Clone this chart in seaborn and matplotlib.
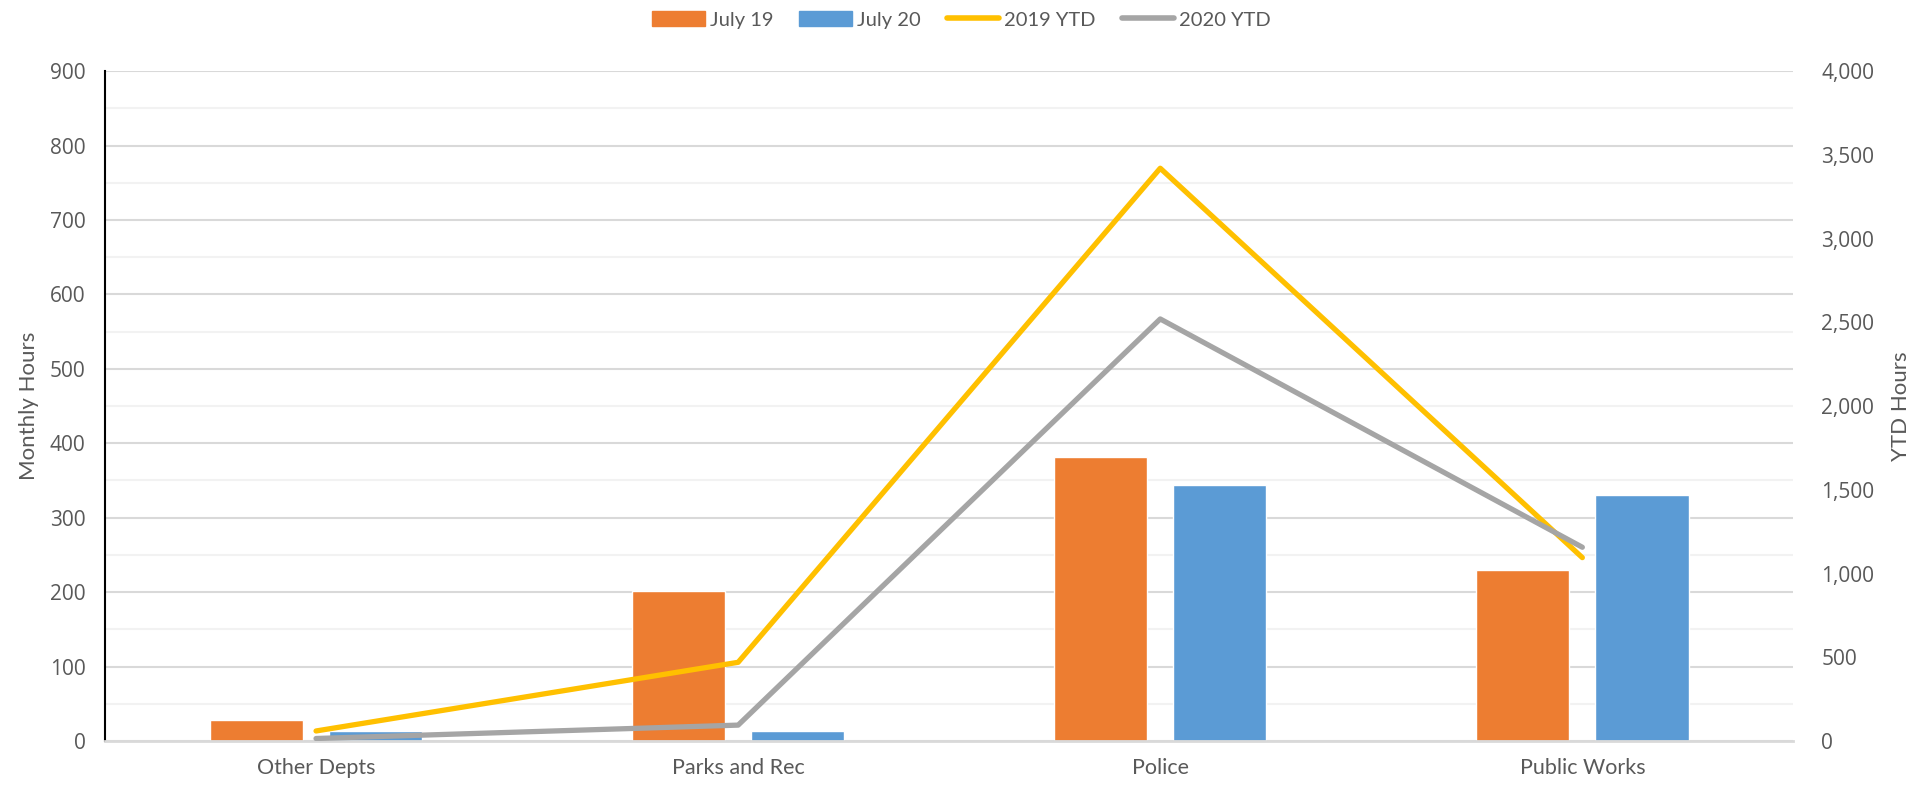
import matplotlib
matplotlib.use("Agg")
import matplotlib.pyplot as plt
import matplotlib.ticker as mticker
from matplotlib.patches import Patch
from matplotlib.lines import Line2D
import pandas as pd
import seaborn as sns

sns.set_theme(style="white")
plt.rcParams['font.family'] = ['Open Sans', 'DejaVu Sans']

departments = ["Other Depts", "Parks and Rec", "Police", "Public Works"]
july19 = [28, 201, 381, 230]
july20 = [13, 13, 344, 331]
ytd2019 = [60, 470, 3420, 1095]
ytd2020 = [15, 95, 2520, 1157]

bars = pd.DataFrame({
    "Department": departments * 2,
    "Hours": july19 + july20,
    "Month": ["July 19"] * 4 + ["July 20"] * 4,
})

orange, blue, yellow, grey = "#ED7D31", "#5B9BD5", "#FFC000", "#A5A5A5"
text_col = "#595959"

fig = plt.figure(figsize=(19.23, 7.9), dpi=100)
ax = fig.add_axes([0.0546, 0.062, 0.878, 0.848])

# minor / major gridlines like the excel chart
ax.set_ylim(0, 900)
ax.yaxis.set_major_locator(mticker.MultipleLocator(100))
ax.yaxis.set_minor_locator(mticker.MultipleLocator(50))
ax.grid(axis="y", which="major", color="#d9d9d9", lw=1.5, zorder=0)
ax.grid(axis="y", which="minor", color="#f2f2f2", lw=1.5, zorder=0)
ax.set_axisbelow(True)

sns.barplot(data=bars, x="Department", y="Hours", hue="Month",
            palette=[orange, blue], width=0.564, gap=0.216,
            saturation=1, ax=ax, legend=False, zorder=2)
ax.set_xlim(-0.5, 3.5)

ax2 = ax.twinx()
ytd = pd.DataFrame({"Department": departments * 2,
                    "Hours": ytd2019 + ytd2020,
                    "Series": ["2019 YTD"] * 4 + ["2020 YTD"] * 4})
sns.lineplot(data=ytd, x="Department", y="Hours", hue="Series",
             palette=[yellow, grey], lw=3.8, ax=ax2, legend=False, sort=False)
ax2.set_ylim(0, 4000)
ax2.yaxis.set_major_locator(mticker.MultipleLocator(500))
ax2.yaxis.set_major_formatter(mticker.StrMethodFormatter("{x:,.0f}"))
ax2.set_xlim(-0.5, 3.5)

for a in (ax, ax2):
    for s in a.spines.values():
        s.set_visible(False)
    a.tick_params(which="both", length=0, labelsize=15, colors=text_col)
ax.spines["left"].set_visible(True)
ax.spines["left"].set_color("black")
ax.spines["left"].set_linewidth(1.5)
ax.spines["bottom"].set_visible(True)
ax.spines["bottom"].set_color("#d9d9d9")
ax.spines["bottom"].set_linewidth(2)
ax.tick_params(axis="y", pad=14)
ax2.tick_params(axis="y", pad=20)
ax.tick_params(axis="x", pad=12)
for lbl in ax.get_xticklabels():
    lbl.set_family("Lato")
    lbl.set_fontsize(15.5)

ax.set_xlabel("")
ax.set_ylabel("Monthly Hours", fontsize=16, color=text_col, family="Lato", labelpad=8)
ax2.set_ylabel("YTD Hours", fontsize=16, color=text_col, family="Lato", labelpad=12)

handles = [Patch(color=orange, label="July 19"),
           Patch(color=blue, label="July 20"),
           Line2D([], [], color=yellow, lw=4, label="2019 YTD", solid_capstyle="round"),
           Line2D([], [], color=grey, lw=4, label="2020 YTD", solid_capstyle="round")]
leg = fig.legend(handles=handles, loc="center", bbox_to_anchor=(0.5, 0.975), ncol=4,
                 frameon=False, handlelength=2.6, handleheight=0.8,
                 columnspacing=1.3, handletextpad=0.25,
                 prop={"family": "Lato", "size": 14.5})
for t in leg.get_texts():
    t.set_color(text_col)

fig.savefig("out.png", dpi=100)
